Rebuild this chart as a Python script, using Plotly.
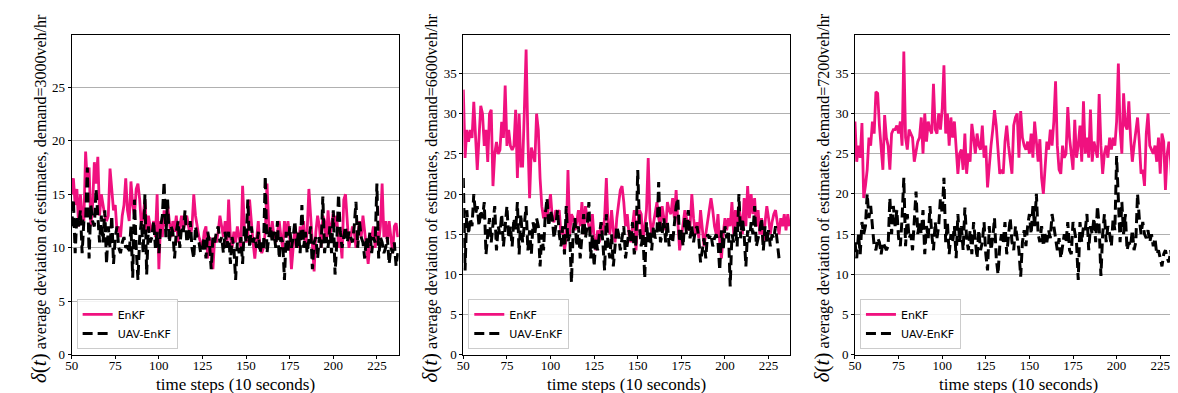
import plotly.graph_objects as go
from plotly.subplots import make_subplots

# x axis starts at step 50, one value per time step
start_step = 50
x_ticks = [50, 75, 100, 125, 150, 175, 200, 225]

demands = ["3000", "6600", "7200"]

enkf_3000 = [
    15, 16.5, 14, 15.5, 12, 15, 13, 12.5, 19, 16,
    17.5, 12, 14, 18, 16, 18.5, 13, 15, 14, 13,
    12.5, 13, 17.4, 15, 13.5, 14, 11.5, 12, 11, 13,
    14, 16.5, 13.5, 12.5, 16.2, 14, 13, 15.5, 16, 14.5,
    12, 13, 14.5, 11.5, 13, 12, 11.5, 12.5, 11, 15,
    8, 12.5, 11, 13.5, 12, 14, 12.5, 11, 12.5, 11.5,
    13, 10.5, 12, 13, 11.5, 12.5, 13, 12, 11, 12,
    15, 13, 12, 11, 10.5, 10, 11.5, 12, 9, 11,
    10.5, 8, 11, 10.5, 11.5, 13, 12, 11, 12.5, 10,
    14.5, 11, 10, 11.5, 10.5, 12, 11, 10, 15.8, 12,
    10.5, 11, 14.5, 12, 10.5, 9, 11, 12.5, 10, 9.5,
    10, 11.5, 16, 12, 11, 12.5, 11, 10.5, 11.5, 12.5,
    11, 10, 12.5, 11, 12.5, 11, 8, 10.5, 12, 11,
    10, 12, 11, 12.5, 10, 11.5, 15.5, 13, 10, 7.8,
    11.5, 13, 12, 10, 13, 12.5, 10.5, 13.5, 11, 12,
    13.3, 12, 13, 10, 11, 9, 14.5, 15, 12, 10,
    11, 12, 11.5, 10, 11, 12.5, 11, 13, 11.5, 10,
    8.5, 10.5, 11, 12, 10, 11.5, 10.5, 12, 16, 11,
    12.5, 10.5, 12.5, 11, 9.5, 12, 12.3, 11,
]

uav_3000 = [
    12, 14.5, 9.5, 13, 12, 13.5, 9.5, 12.5, 12.5, 17.5,
    9, 14, 12.5, 12, 15.5, 13, 10.5, 13, 10.5, 13.5,
    8.5, 12, 10, 13, 8.5, 11, 12, 10, 9.5, 10.5,
    11, 10, 10.2, 9.5, 12, 7.2, 14.5, 10, 7, 11,
    12.5, 9.5, 15, 7.5, 12, 10.5, 11, 12.5, 10, 11.5,
    9.5, 12, 13, 16.2, 11, 14.5, 10.5, 12, 11.5, 9,
    11.5, 12.5, 10, 12, 11.5, 13.5, 10.5, 11, 12.5, 10,
    9, 12, 11, 10.5, 9.5, 10, 11, 9, 11.5, 10.5,
    8, 11, 10.5, 11.5, 12, 10.5, 11, 9.5, 11.5, 10,
    11.5, 8.5, 11, 10, 7, 10.5, 9.5, 11, 8.5, 12,
    10.5, 14.5, 10, 12, 10.5, 11, 10, 11.5, 9.5, 10.5,
    10, 16.7, 9.5, 11, 12, 10.5, 11.5, 10, 12.5, 9,
    11, 10.5, 7, 11.5, 9.5, 12, 10, 11, 12.5, 10,
    11.5, 9.5, 14, 10, 11.5, 9.5, 11, 12, 8, 10.5,
    11, 9, 11, 10, 14.8, 9.5, 11, 10, 12, 9.5,
    13.5, 7.5, 10.5, 15, 11.5, 10, 11, 12, 10.5, 11.5,
    11, 10.5, 12, 14.3, 10, 12.5, 11, 10.5, 9, 11,
    10, 11.5, 9.5, 11, 10.5, 16, 9, 11, 10.5, 9.5,
    10, 11, 8.5, 10, 9.5, 10.5, 8.3, 9.5,
]

enkf_6600 = [
    33, 24.5, 28, 26.5, 28, 27, 31.5, 28, 23, 27,
    31, 30, 26, 28, 24, 30, 30.5, 21, 25, 26.5,
    25, 25.5, 29, 27, 33.5, 26, 28, 26, 25.5, 26,
    30.5, 22, 30, 23.5, 23.5, 30.5, 38, 27, 19.5, 25.8,
    25, 24, 30, 28, 22, 18.5, 17, 18, 17, 18.5,
    20, 17, 16.5, 18, 17.5, 18, 15, 16, 13, 14.5,
    23, 15, 17.5, 17, 15.5, 16.5, 18, 16, 19, 15,
    18.5, 17, 16, 15, 17.5, 14.5, 13, 15.5, 14, 16.5,
    15, 17, 22, 16, 15, 18, 15.5, 14, 17, 18.5,
    20.5, 21, 19, 16, 17.5, 15, 14, 16, 18, 13,
    16.5, 18, 17.5, 14, 16, 18, 24.5, 17, 15, 16.5,
    18, 19, 17, 16, 18.5, 17, 15.5, 19, 18, 17.5,
    19.5, 17, 20.5, 16.5, 13, 14.5, 16, 18, 17, 15.5,
    16, 20, 17, 15, 16.5, 14.5, 18, 16, 13.5, 15,
    16.5, 18, 19.5, 18, 16, 15, 17.5, 14, 12, 15,
    17, 15.5, 17, 16, 19, 15, 18, 16, 18.5, 17,
    15, 19.5, 16, 21, 17, 20, 17.5, 19.5, 16, 18,
    15, 17, 14, 16.5, 18.5, 17, 15, 16.5, 17.5, 18,
    16.5, 15, 17, 16, 17.5, 15.5, 17.5, 16,
]

uav_6600 = [
    22, 10.5, 18, 15, 17, 16, 20, 17.5, 18.5, 16,
    18, 17, 19, 12.5, 15, 17, 14, 16.5, 18.5, 13,
    16, 15, 17.5, 13.5, 16, 18.5, 14.5, 16, 13.5, 17,
    15.5, 19, 12.5, 17.5, 14, 16, 18.5, 13, 15.5, 12.5,
    16.5, 15, 17, 16, 11, 15, 13, 17.5, 19.5, 16,
    18, 17, 14.5, 16, 18, 15, 13.5, 16, 12.5, 18.5,
    14, 15, 9, 15.5, 17, 13.5, 16, 12, 15, 17.5,
    14.5, 16, 19, 12, 15, 11, 14.5, 13, 15, 16.5,
    14, 10.5, 17.5, 13.5, 12, 15, 11, 14, 16, 15,
    13, 14.5, 16, 12, 13.5, 15.5, 14, 16.5, 12.5, 14,
    23, 16, 13.5, 15, 9.5, 16.5, 14, 15.5, 13, 16,
    14.5, 15, 21.5, 14, 15, 17, 14, 16.5, 13.5, 15,
    14, 16.5, 18.5, 19.5, 14, 15.5, 13.5, 17, 15, 18,
    14.5, 16, 14, 15.5, 16, 14.5, 11.5, 13, 14.5, 12,
    15, 14.5, 15, 13.5, 14.5, 15, 14, 10.5, 15.5, 13,
    16, 14.5, 15.5, 8.5, 15, 14, 16, 13.5, 20, 14.5,
    17, 15, 11, 15.5, 14, 16.5, 15, 18.5, 13.5, 14.5,
    15.5, 17, 13, 16, 14, 15.5, 13.5, 15, 14.5, 16,
    14, 12,
]

enkf_7200 = [
    29, 24, 26, 24.5, 28.8, 19.5, 21, 23, 27, 26,
    29, 27.5, 32.7, 32.5, 28.5, 26, 23, 29.8, 27, 26,
    23, 27.5, 28, 28, 28.5, 27.5, 29, 26, 37.7, 27,
    25.5, 28, 27.5, 27, 24, 25.5, 26.5, 27, 29.5, 25,
    30, 26.5, 29, 28, 27.5, 33.7, 28, 27.5, 30, 28,
    30.5, 36, 27.5, 30, 26, 29.5, 27, 29, 25.5, 22.5,
    25, 25.5, 23, 27.5, 22.5, 25, 24, 28.7, 27, 25,
    27.5, 26, 25.5, 28.5, 24.5, 26, 20.8, 24, 26, 28,
    30.4, 28.5, 26, 22.5, 23, 22.5, 26.5, 28.5, 26, 24.5,
    22.5, 28.5, 29.5, 30, 24.5, 30.3, 27, 26, 25.5, 26.5,
    25, 27.5, 24.5, 29, 26, 24, 26.8, 22, 20, 23.5,
    26.5, 25.5, 28, 26, 29, 34, 26, 23, 22.5, 26,
    24.5, 25, 30.8, 27, 25, 23, 29.2, 24.5, 26, 28.5,
    24, 31.5, 25, 27, 24.5, 30.5, 24, 26.5, 25.5, 24.5,
    32.4, 26, 22.5, 25, 26, 24.5, 27, 25.5, 27, 26,
    29, 36.2, 28, 25, 32.5, 28.5, 28, 31.5, 27, 24,
    26, 27.5, 29.5, 26.5, 22.5, 23, 21, 27.5, 30, 26,
    25.5, 25, 26, 24, 27, 22.5, 27.5, 26.5, 20.5, 25,
    26.5, 24, 19.5, 22, 25, 28.8, 27, 25, 24.5, 23.5,
]

uav_7200 = [
    14, 12, 15, 12.5, 16.5, 15, 16, 20, 17, 18.5,
    16, 13.5, 13, 14.5, 14, 12.5, 14, 13.5, 13, 13.5,
    19.5, 15, 18.5, 16, 18, 14.5, 13.5, 17, 22, 13.5,
    17.5, 14.5, 15, 13, 17, 20.3, 15, 16.5, 15, 18,
    12.5, 16, 14.5, 18.5, 15, 13, 16.5, 14.5, 16, 19.5,
    17.5, 22, 14, 16.5, 12.5, 15, 14, 16, 12, 17.5,
    14, 16, 13, 18.3, 14.5, 13, 15.5, 12.5, 16.5, 14,
    12, 15.5, 13, 14, 16.5, 12.5, 10.5, 16, 13, 14.5,
    17, 12, 10, 13.5, 15, 14, 16.5, 12.5, 15, 17,
    14, 13, 16, 14.5, 13, 9.7, 14, 15.5, 13.5, 16,
    17.5, 15, 18.5, 16, 20, 15, 14, 16, 13.5, 15,
    14, 15.5, 14.5, 17.5, 16, 14.5, 13, 14.5, 12, 13.5,
    15, 14, 16.5, 13, 12.5, 16.5, 15, 14, 9.3, 16.5,
    14, 16, 15.5, 17.5, 13, 16, 15, 17, 14, 18.5,
    16, 9.8, 15, 17.5, 14, 16, 15, 13.5, 17, 15.5,
    24.7, 18.5, 14, 19, 15, 17.5, 13, 14, 13.5, 15.5,
    13, 14, 20, 17, 15, 16.5, 15, 14.5, 15.5, 14,
    15, 13.5, 14.5, 12.5, 13, 12, 11, 12.5, 13, 12,
    11.5, 13, 11.5, 12, 14.5, 15, 13.5, 14,
]

enkf_series = [enkf_3000, enkf_6600, enkf_7200]
uav_series = [uav_3000, uav_6600, uav_7200]
y_tops = [29.85, 39.75, 39.7]
y_ticks = [[0, 5, 10, 15, 20, 25], [0, 5, 10, 15, 20, 25, 30, 35], [0, 5, 10, 15, 20, 25, 30, 35]]

W, H = 1178, 393
panel_left = [57, 451, 845]
panel_w = 329
top_px, bottom_px = 28, 354

pink = "#f0117f"
serif = "Liberation Serif, serif"

fig = make_subplots(rows=1, cols=3)

for i in range(3):
    leg = "legend" if i == 0 else f"legend{i + 1}"
    xs_e = [start_step + k for k in range(len(enkf_series[i]))]
    xs_u = [start_step + k for k in range(len(uav_series[i]))]
    fig.add_trace(go.Scatter(
        x=xs_e, y=enkf_series[i], mode="lines", name="EnKF",
        line=dict(color=pink, width=2.8), legend=leg,
    ), row=1, col=i + 1)
    fig.add_trace(go.Scatter(
        x=xs_u, y=uav_series[i], mode="lines", name="UAV-EnKF",
        line=dict(color="black", width=3, dash="10px,5px"), legend=leg,
    ), row=1, col=i + 1)

    x0 = panel_left[i] / W
    x1 = (panel_left[i] + panel_w) / W
    fig.update_xaxes(
        domain=[x0, x1], range=[50, 237.5], tickvals=x_ticks,
        showgrid=False, showline=True, linecolor="black", linewidth=1, mirror=True,
        ticks="outside", ticklen=3, tickcolor="black", ticklabelstandoff=-4,
        tickfont=dict(family=serif, size=13, color="black"),
        zeroline=False, row=1, col=i + 1,
    )
    fig.update_yaxes(
        domain=[1 - bottom_px / H, 1 - top_px / H], range=[0, y_tops[i]], tickvals=y_ticks[i],
        showgrid=True, gridcolor="#b0b0b0", gridwidth=1,
        showline=True, linecolor="black", linewidth=1, mirror=True,
        ticks="outside", ticklen=3, tickcolor="black",
        tickfont=dict(family=serif, size=13, color="black"),
        zeroline=False, row=1, col=i + 1,
    )
    fig.add_annotation(
        xref="paper", yref="paper", x=(panel_left[i] - 33) / W, y=1 - 194 / H,
        text=f"<span style='font-size:21px'><i>δ</i>(<i>t</i>)</span> average deviation of estimates, demand={demands[i]}veh/hr",
        textangle=-90, showarrow=False, xanchor="center", yanchor="middle",
        font=dict(family=serif, size=16, color="black"),
    )
    fig.add_annotation(
        xref="paper", yref="paper", x=(panel_left[i] + panel_w / 2) / W, y=1 - 384 / H,
        text="time steps (10 seconds)", showarrow=False, xanchor="center", yanchor="middle",
        font=dict(family=serif, size=17, color="black"),
    )

legend_style = dict(
    xanchor="left", yanchor="bottom", y=1 - 348 / H,
    bgcolor="rgba(255,255,255,0.85)", bordercolor="#cccccc", borderwidth=1,
    font=dict(family="DejaVu Sans, sans-serif", size=11, color="black"),
    tracegroupgap=2, itemwidth=30,
)
fig.update_layout(
    width=W, height=H,
    margin=dict(l=0, r=0, t=0, b=0),
    paper_bgcolor="white", plot_bgcolor="white",
    showlegend=True,
    legend=dict(x=(panel_left[0] + 5) / W, **legend_style),
    legend2=dict(x=(panel_left[1] + 5) / W, **legend_style),
    legend3=dict(x=(panel_left[2] + 5) / W, **legend_style),
)

fig.write_html("out.html")
